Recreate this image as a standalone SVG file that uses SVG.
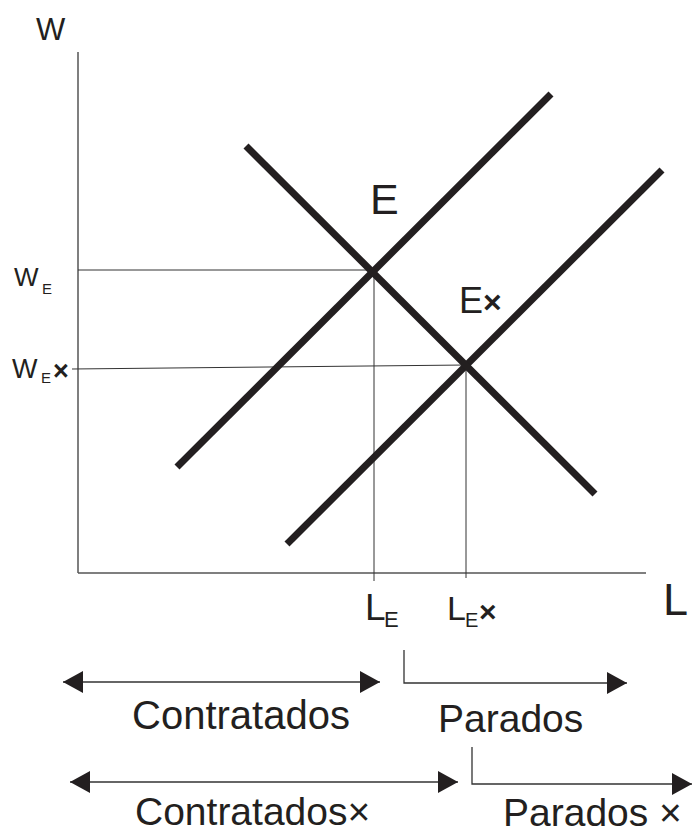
<svg xmlns="http://www.w3.org/2000/svg" width="692" height="834" viewBox="0 0 692 834">
<style>
text{font-family:"Liberation Sans",Arial,sans-serif;fill:#231f20}
.axis{stroke:#555;stroke-width:1.5;fill:none}
.thin{stroke:#333;stroke-width:1;fill:none}
.curve{stroke:#231f20;stroke-width:7;fill:none}
.arr{stroke:#333;stroke-width:1.3;fill:none}
</style>
<defs>
<marker id="ah" viewBox="0 0 20 22" refX="20" refY="11" markerWidth="20" markerHeight="22" markerUnits="userSpaceOnUse" orient="auto-start-reverse">
<path d="M0,0 L20,11 L0,22 Z" fill="#231f20"/>
</marker>
</defs>
<rect width="692" height="834" fill="#fff"/>
<g id="axes">
<line class="axis" x1="78" y1="52" x2="78" y2="573"/>
<line class="axis" x1="78" y1="573" x2="646" y2="573"/>
</g>
<g id="guides">
<line class="thin" x1="78" y1="270" x2="374" y2="270"/>
<line class="thin" x1="72" y1="369" x2="466" y2="365"/>
<line class="thin" x1="374" y1="270" x2="374" y2="581"/>
<line class="thin" x1="466" y1="365" x2="466" y2="578"/>
</g>
<g id="curves">
<line id="supply1" class="curve" x1="177" y1="467" x2="551" y2="94"/>
<line id="supply2" class="curve" x1="287" y1="544" x2="662" y2="170"/>
<line id="demand" class="curve" x1="246" y1="146" x2="595" y2="494"/>
</g>
<g id="labels">
<text x="36" y="40" font-size="31">W</text>
<text x="14" y="286" font-size="26">W</text>
<text x="42" y="294" font-size="15">E</text>
<text x="12" y="378" font-size="27">W</text>
<text x="41" y="383" font-size="15">E</text>
<text x="53" y="380" font-size="27" font-weight="bold">×</text>
<text x="370" y="214" font-size="43">E</text>
<text x="459" y="313" font-size="36">E</text>
<text x="483" y="313" font-size="32" font-weight="bold">×</text>
<text x="663" y="615" font-size="45">L</text>
<text x="365" y="620" font-size="37">L</text>
<text x="384" y="627" font-size="22">E</text>
<text x="447" y="620" font-size="34">L</text>
<text x="465" y="627" font-size="20">E</text>
<text x="479" y="622" font-size="30" font-weight="bold">×</text>
</g>
<g id="connectors">
<line class="arr" x1="63" y1="682" x2="380" y2="682" marker-start="url(#ah)" marker-end="url(#ah)"/>
<polyline class="arr" points="404,650 404,683 627,683" marker-end="url(#ah)"/>
<line class="arr" x1="70" y1="782" x2="458" y2="782" marker-start="url(#ah)" marker-end="url(#ah)"/>
<polyline class="arr" points="472,747 472,784 692,784" marker-end="url(#ah)"/>
</g>
<g id="range-labels">
<text x="132" y="729" font-size="40">Contratados</text>
<text x="438" y="732" font-size="39">Parados</text>
<text x="135" y="825" font-size="39">Contratados×</text>
<text x="503" y="826" font-size="39">Parados ×</text>
</g>
</svg>
